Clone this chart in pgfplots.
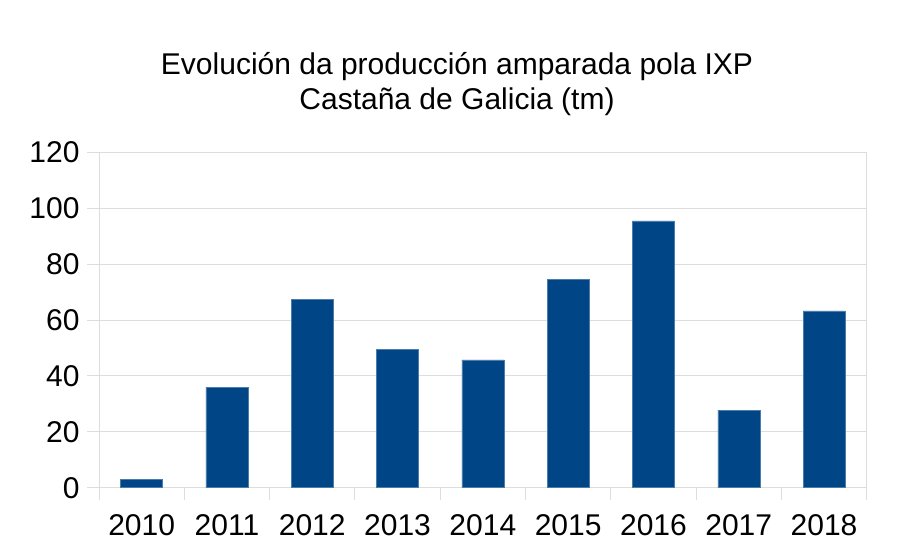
\documentclass[border=0pt]{standalone}
\usepackage{pgfplots}
\pgfplotsset{compat=1.18}
\usepackage{fontspec}
\setmainfont{Liberation Sans}
\definecolor{barblue}{HTML}{004586}
\definecolor{gridgray}{HTML}{DDDDDD}
\begin{document}
\begin{tikzpicture}[x=1pt,y=1pt]
\path[use as bounding box] (0,0) rectangle (904,558);
\node[align=center, font=\fontsize{30}{36}\selectfont, anchor=base] at (457,483) {Evolución da producción amparada pola IXP};
\node[align=center, font=\fontsize{30}{36}\selectfont, anchor=base] at (457,448) {Castaña de Galicia (tm)};
\begin{axis}[
  at={(99pt,70.3pt)}, anchor=south west,
  scale only axis, width=767.7pt, height=335.4pt,
  xmin=0, xmax=9, ymin=0, ymax=120,
  ytick={0,20,...,120},
  xtick={0.5,1.5,...,8.5},
  xticklabels={2010,2011,2012,2013,2014,2015,2016,2017,2018},
  minor xtick={0,1,...,9},
  xtick pos=bottom, ytick pos=left,
  tick align=outside,
  major tick length=12pt,
  minor tick length=12pt,
  major x tick style={draw=none},
  minor x tick style={gridgray, line width=0.9pt},
  major y tick style={gridgray, line width=0.9pt},
  ymajorgrids, grid style={gridgray, line width=0.9pt},
  axis line style={gridgray, line width=0.9pt},
  tick label style={font=\fontsize{30}{36}\selectfont},
  xticklabel style={yshift=-11pt},
  yticklabel style={xshift=-4pt},
  /pgf/number format/assume math mode=true,
  ybar, bar width=42pt,
  clip=false,
]
\addplot[fill=barblue, draw=barblue!70!white, line width=0.5pt] coordinates {
(0.5,2.9) (1.5,36.0) (2.5,67.3) (3.5,49.4) (4.5,45.7) (5.5,74.6) (6.5,95.5) (7.5,27.8) (8.5,63.3)};
\end{axis}
\end{tikzpicture}
\end{document}
